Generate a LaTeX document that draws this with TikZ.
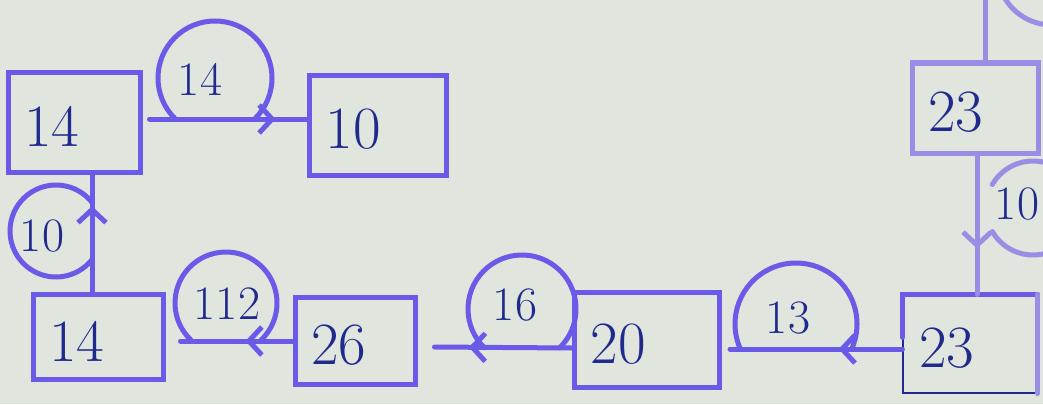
\documentclass[tikz,border=0pt]{standalone}
\usepackage{fontspec}
\usepackage{tikz}
\usetikzlibrary{arrows.meta, decorations.markings}
\definecolor{tinta}{RGB}{106,90,232}
\definecolor{tintaclara}{RGB}{152,142,228}
\definecolor{caneta}{RGB}{32,42,140}
\definecolor{papel}{RGB}{224,229,222}

\begin{document}
\begin{tikzpicture}[x=1pt, y=1pt,
    caixa/.style={draw=tinta, line width=5pt, align=left, inner xsep=16pt, text height=48pt, text=caneta, font=\fontsize{60}{64}\selectfont},
    seta/.style={color=tinta, line width=5pt, line cap=round, postaction={decorate},
      decoration={markings, mark=at position #1 with {\arrow{Straight Barb[length=13pt, width=28pt]}}}},
    laco/.style={tinta, line width=5pt, line cap=round},
    rotulo/.style={text=caneta, inner sep=0pt, font=\fontsize{48}{52}\selectfont},
    apagado/.style={color=tintaclara}
  ]
    \path[use as bounding box, fill=papel] (0,0) rectangle (1043,-404);
    \clip (0,0) rectangle (1043,-404);

    \node[caixa, text width=100pt, minimum height=100pt] (A) at (74,-122) {14};
    \node[caixa, text width=105pt, minimum height=100pt] (B) at (378,-125) {10};
    \node[caixa, text width=98pt, minimum height=85pt] (C) at (98,-337) {14};
    \node[caixa, text width=88pt, minimum height=87pt] (D) at (355,-341) {26};
    \node[caixa, text width=113pt, minimum height=95pt] (E) at (647,-340) {20};
    \node[caixa, draw=caneta, line width=1.2pt, text width=102pt, minimum height=98pt] (F) at (970,-344) {23};
    \node[caixa, draw=tintaclara, text width=94pt, minimum height=90pt] (G) at (975,-108) {23};
    \draw[laco] ([yshift=-43pt]F.north west) -- (F.north west) -- (F.north east);
    \draw[laco, apagado] (F.north east) -- (F.south east);

    \node[rotulo] (r1) at (200,-79) {14};
    \node[rotulo] (r2) at (42,-236) {10};
    \node[rotulo] (r3) at (227,-304) {112};
    \node[rotulo] (r4) at (515,-305) {16};
    \node[rotulo] (r5) at (788,-318) {13};
    \node[rotulo] (r6) at (1017,-204) {10};

    \draw[seta=0.8] ([shift={(7pt,3pt)}]A.east) -- ([yshift=6pt]B.west);
    \draw[laco] (215,-78) ++(225:57pt) arc[start angle=225, end angle=-45, radius=57pt];

    \draw[seta=0.73] ([xshift=-6pt]C.north) -- ([xshift=18pt]A.south);
    \draw[laco] (56,-231) ++(38:46pt) arc[start angle=38, end angle=322, radius=46pt];

    \draw[seta=0.42] (D.west) -- ([xshift=15pt]C.east |- D.west);
    \draw[laco] (226,-303) ++(227:51pt) arc[start angle=227, end angle=-47, radius=51pt];

    \draw[seta=0.75] ([yshift=-8pt]E.west) -- ([xshift=17pt,yshift=-6pt]D.east);
    \draw[laco] (522,-309) ++(226:54pt) arc[start angle=226, end angle=-46, radius=54pt];

    \draw[seta=0.37] ([yshift=-5pt]F.west) -- ([xshift=8pt,yshift=-9pt]E.east);
    \draw[laco] (796,-324) ++(204:61pt) arc[start angle=204, end angle=-24, radius=61pt];

    \draw[seta=0.67, apagado] ([xshift=2pt]G.south) -- ([xshift=7pt]F.north);
    \draw[laco, apagado] (1033,-208) ++(150:47pt) arc[start angle=150, end angle=-150, radius=47pt];

    \coordinate (topo) at (985,5);
    \draw[laco, apagado] ([xshift=10pt]G.north) -- (topo);
    \draw[laco, apagado] (1052,30) ++(200:55pt) arc[start angle=200, end angle=265, radius=55pt];
  \end{tikzpicture}
\end{document}
